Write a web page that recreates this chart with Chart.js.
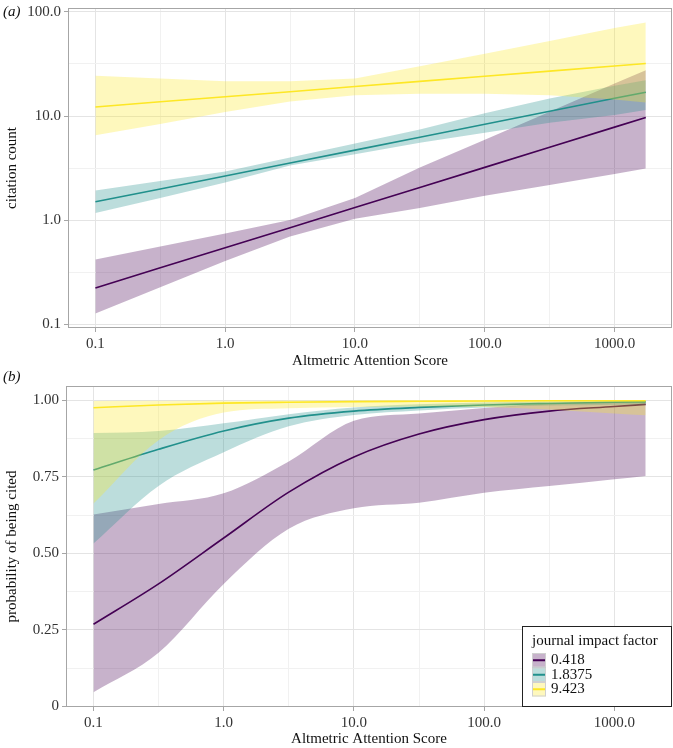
<!DOCTYPE html>
<html>
    <head>
        <meta charset="UTF-8" />
        <title>Citations and Altmetric Attention Score</title>
        <script src="https://cdn.jsdelivr.net/npm/chart.js@4.4.2/dist/chart.umd.min.js"></script>
        <style>
            body {
                margin: 0;
                background: #ffffff;
            }

            canvas {
                display: block;
            }
        </style>
    </head>
    <body>
        <canvas id="chartA" width="673" height="370"></canvas>
        <canvas id="chartB" width="673" height="378"></canvas>

        <script>
            // Altmetric Attention Score values the predictions were read at
            var scores = [0.1, 0.316, 1, 3.16, 10, 31.6, 100, 316, 1000, 1740];

            // journal impact factor groups
            var groups = ["0.418", "1.8375", "9.423"];
            var groupColors = ["#440154", "#21908c", "#fde725"];

            // axis ticks
            var xTicks = [0.1, 1, 10, 100, 1000];
            var xTickLabels = ["0.1", "1.0", "10.0", "100.0", "1000.0"];
            var xMinor = [0.316, 3.16, 31.6, 316];
            var countTicks = [0.1, 1, 10, 100];
            var countTickLabels = ["0.1", "1.0", "10.0", "100.0"];
            var countMinor = [0.316, 3.16, 31.6];
            var probTicks = [0, 0.25, 0.5, 0.75, 1];
            var probTickLabels = ["0", "0.25", "0.50", "0.75", "1.00"];
            var probMinor = [0.125, 0.375, 0.625, 0.875];

            // (a) predicted citation count, one row per group
            var countFit0418 = [0.223, 0.348, 0.542, 0.845, 1.32, 2.06, 3.21, 5.01, 7.82, 9.68];
            var countFit18375 = [1.5, 1.99, 2.65, 3.53, 4.7, 6.26, 8.34, 11.1, 14.8, 16.9];
            var countFit9423 = [12.2, 13.7, 15.3, 17.1, 19.2, 21.5, 24.1, 27.0, 30.2, 31.9];
            var countHigh0418 = [0.418, 0.557, 0.743, 1.0, 1.63, 3.2, 5.9, 11.0, 20.5, 27.5];
            var countHigh18375 = [1.92, 2.37, 2.93, 3.99, 5.44, 7.4, 10.6, 14.7, 19.5, 22.0];
            var countHigh9423 = [24.3, 22.9, 21.6, 21.6, 22.9, 30.1, 39.6, 52.6, 70.0, 79.0];
            var countLow0418 = [0.127, 0.226, 0.406, 0.695, 1.03, 1.31, 1.71, 2.18, 2.78, 3.13];
            var countLow18375 = [1.17, 1.63, 2.3, 3.35, 4.3, 5.52, 6.9, 8.6, 10.2, 11.4];
            var countLow9423 = [6.55, 8.4, 10.9, 13.8, 15.8, 16.4, 16.4, 15.8, 14.4, 13.5];

            // (b) predicted probability of being cited
            var probFit0418 = [0.268, 0.4, 0.55, 0.7, 0.815, 0.89, 0.937, 0.965, 0.98, 0.987];
            var probFit18375 = [0.772, 0.84, 0.9, 0.942, 0.965, 0.977, 0.985, 0.99, 0.994, 0.995];
            var probFit9423 = [0.976, 0.985, 0.991, 0.994, 0.996, 0.997, 0.998, 0.999, 0.999, 0.999];
            var probHigh0418 = [0.627, 0.661, 0.696, 0.8, 0.933, 0.957, 0.975, 0.99, 0.996, 0.998];
            var probHigh18375 = [0.893, 0.9, 0.925, 0.955, 0.977, 0.987, 0.993, 0.996, 0.998, 0.999];
            var probHigh9423 = [0.998, 0.999, 0.999, 1.0, 1.0, 1.0, 1.0, 1.0, 1.0, 1.0];
            var probLow0418 = [0.046, 0.175, 0.4, 0.58, 0.647, 0.665, 0.698, 0.72, 0.742, 0.753];
            var probLow18375 = [0.532, 0.72, 0.83, 0.915, 0.952, 0.967, 0.977, 0.983, 0.986, 0.987];
            var probLow9423 = [0.663, 0.87, 0.96, 0.974, 0.978, 0.98, 0.978, 0.97, 0.957, 0.951];

            var FONT = '"Liberation Serif", "DejaVu Serif", serif';
            Chart.defaults.font.family = FONT;
            Chart.defaults.font.size = 15;

            function rgba(hex, a) {
                var n = parseInt(hex.slice(1), 16);
                return "rgba(" + (n >> 16) + "," + ((n >> 8) & 255) + "," + (n & 255) + "," + a + ")";
            }

            function pts(ys) {
                return scores.map(function (x, i) {
                    return { x: x, y: ys[i] };
                });
            }

            // datasets with index 0 are drawn last, so yellow goes first
            function buildDatasets(fits, highs, lows, smooth) {
                var sets = [];
                for (var g = groups.length - 1; g >= 0; g--) {
                    var common = {
                        pointRadius: 0,
                        cubicInterpolationMode: smooth ? "monotone" : "default",
                    };
                    sets.push(Object.assign({
                        label: groups[g],
                        data: pts(fits[g]),
                        borderColor: groupColors[g],
                        borderWidth: 1.6,
                        fill: false,
                    }, common));
                    sets.push(Object.assign({
                        data: pts(highs[g]),
                        borderWidth: 0,
                        borderColor: "rgba(0,0,0,0)",
                        backgroundColor: rgba(groupColors[g], 0.3),
                        fill: "+1",
                    }, common));
                    sets.push(Object.assign({
                        data: pts(lows[g]),
                        borderWidth: 0,
                        borderColor: "rgba(0,0,0,0)",
                        fill: false,
                    }, common));
                }
                return sets;
            }

            function isMajor(ctx, majors) {
                return ctx.tick && majors.indexOf(ctx.tick.value) >= 0;
            }

            function axis(opts) {
                var all = opts.ticks.concat(opts.minor).sort(function (a, b) { return a - b; });
                return {
                    type: opts.type,
                    position: opts.position,
                    min: opts.min,
                    max: opts.max,
                    afterBuildTicks: function (s) {
                        s.ticks = all.map(function (v) { return { value: v }; });
                    },
                    afterFit: function (s) {
                        // no extra room for half labels at the ends
                        s.paddingTop = 0;
                        s.paddingBottom = 0;
                        s.paddingLeft = 0;
                        s.paddingRight = 0;
                        if (opts.position === "bottom") s.height = opts.size;
                        else s.width = opts.size;
                    },
                    ticks: {
                        autoSkip: false,
                        maxRotation: 0,
                        padding: 3,
                        color: "#333333",
                        font: { family: FONT, size: 15 },
                        callback: function (v) {
                            var i = opts.ticks.indexOf(v);
                            return i >= 0 ? opts.labels[i] : "";
                        },
                    },
                    grid: {
                        color: function (ctx) {
                            return isMajor(ctx, opts.ticks) ? "#e4e4e4" : "#f1f1f1";
                        },
                        tickLength: 4,
                        tickColor: function (ctx) {
                            return isMajor(ctx, opts.ticks) ? "#a6a6a6" : "rgba(0,0,0,0)";
                        },
                    },
                    border: { display: false },
                    title: {
                        display: true,
                        text: opts.title,
                        color: "#111111",
                        font: { family: FONT, size: 15 },
                        padding: opts.position === "bottom" ? { top: 0, bottom: 0 } : { top: 3, bottom: 0 },
                    },
                };
            }

            // panel frame, panel tag and (optionally) the legend box
            var decorations = {
                id: "decorations",
                afterDraw: function (chart, args, o) {
                    var ctx = chart.ctx;
                    var a = chart.chartArea;
                    ctx.save();
                    ctx.strokeStyle = "#a6a6a6";
                    ctx.lineWidth = 1;
                    ctx.strokeRect(a.left + 0.5, a.top + 0.5, a.right - a.left - 1, a.bottom - a.top - 1);

                    ctx.fillStyle = "#111111";
                    ctx.textBaseline = "middle";
                    ctx.font = "italic 15px " + FONT;
                    ctx.fillText(o.tag, 3, o.tagY);

                    if (o.legend) {
                        var w = 150, h = 81;
                        var x0 = a.right - w, y0 = a.bottom - h;
                        ctx.fillStyle = "#ffffff";
                        ctx.fillRect(x0, y0, w, h);
                        ctx.strokeStyle = "#222222";
                        ctx.strokeRect(x0 + 0.5, y0 + 0.5, w - 1, h - 1);
                        ctx.font = "15px " + FONT;
                        ctx.fillStyle = "#111111";
                        ctx.fillText("journal impact factor", x0 + 10, y0 + 15);
                        for (var i = 0; i < groups.length; i++) {
                            var ky = y0 + 27 + i * 14.5;
                            ctx.fillStyle = rgba(groupColors[i], 0.3);
                            ctx.fillRect(x0 + 10, ky, 14, 14.5);
                            ctx.strokeStyle = "#d0d0d0";
                            ctx.strokeRect(x0 + 10.5, ky + 0.5, 13, 13.5);
                            ctx.strokeStyle = groupColors[i];
                            ctx.lineWidth = 2;
                            ctx.beginPath();
                            ctx.moveTo(x0 + 11, ky + 7.25);
                            ctx.lineTo(x0 + 23, ky + 7.25);
                            ctx.stroke();
                            ctx.lineWidth = 1;
                            ctx.fillStyle = "#111111";
                            ctx.fillText(groups[i], x0 + 29, ky + 7.5);
                        }
                    }
                    ctx.restore();
                },
            };

            function commonOptions(padTop, xAxisHeight, yAxis, tag, tagY, legend) {
                return {
                    responsive: false,
                    animation: false,
                    layout: { padding: { top: padTop, right: 1, left: 0, bottom: 0 } },
                    plugins: {
                        legend: { display: false },
                        tooltip: { enabled: false },
                        decorations: { tag: tag, tagY: tagY, legend: legend },
                    },
                    scales: {
                        x: axis({
                            type: "logarithmic",
                            position: "bottom",
                            min: 0.0615,
                            max: 2770,
                            ticks: xTicks,
                            labels: xTickLabels,
                            minor: xMinor,
                            size: xAxisHeight,
                            title: "Altmetric Attention Score",
                        }),
                        y: yAxis,
                    },
                };
            }

            new Chart(document.getElementById("chartA").getContext("2d"), {
                type: "line",
                data: {
                    datasets: buildDatasets(
                        [countFit0418, countFit18375, countFit9423],
                        [countHigh0418, countHigh18375, countHigh9423],
                        [countLow0418, countLow18375, countLow9423],
                        false
                    ),
                },
                options: commonOptions(8, 42, axis({
                    type: "logarithmic",
                    position: "left",
                    min: 0.092,
                    max: 109,
                    ticks: countTicks,
                    labels: countTickLabels,
                    minor: countMinor,
                    size: 68,
                    title: "citation count",
                }), "(a)", 12, false),
                plugins: [decorations],
            });

            new Chart(document.getElementById("chartB").getContext("2d"), {
                type: "line",
                data: {
                    datasets: buildDatasets(
                        [probFit0418, probFit18375, probFit9423],
                        [probHigh0418, probHigh18375, probHigh9423],
                        [probLow0418, probLow18375, probLow9423],
                        true
                    ),
                },
                options: commonOptions(16, 41, axis({
                    type: "linear",
                    position: "left",
                    min: -0.0025,
                    max: 1.047,
                    ticks: probTicks,
                    labels: probTickLabels,
                    minor: probMinor,
                    size: 66,
                    title: "probability of being cited",
                }), "(b)", 7, true),
                plugins: [decorations],
            });
        </script>
    </body>
</html>
